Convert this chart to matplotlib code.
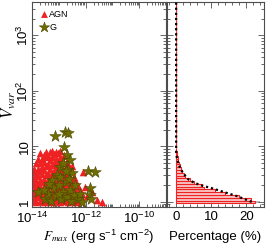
import numpy as np
import matplotlib
matplotlib.use("Agg")
import matplotlib.pyplot as plt
from matplotlib.ticker import LogLocator, FixedLocator, FuncFormatter, NullFormatter, MultipleLocator

plt.rcParams['font.family'] = ['Liberation Sans', 'DejaVu Sans']
plt.rcParams['mathtext.fontset'] = 'stix'

# ---- scatter data (log10 values) ----
agn_log_fmax = [
    -14.00, -14.00, -14.00, -14.00, -14.00, -14.00,
    -13.92, -13.92, -13.92, -13.92, -13.92,
    -13.85, -13.85, -13.85, -13.85, -13.85, -13.85,
    -13.78, -13.78, -13.78, -13.78, -13.78, -13.78,
    -13.70, -13.70, -13.70, -13.70, -13.70, -13.70, -13.70,
    -13.62, -13.62, -13.62, -13.62, -13.62, -13.62,
    -13.55, -13.55, -13.55, -13.55, -13.55, -13.55, -13.55,
    -13.47, -13.47, -13.47, -13.47, -13.47, -13.47, -13.47,
    -13.40, -13.40, -13.40, -13.40, -13.40, -13.40, -13.40,
    -13.32, -13.32, -13.32, -13.32, -13.32, -13.32, -13.32,
    -13.25, -13.25, -13.25, -13.25, -13.25, -13.25, -13.25, -13.25,
    -13.17, -13.17, -13.17, -13.17, -13.17, -13.17, -13.17,
    -13.10, -13.10, -13.10, -13.10, -13.10, -13.10, -13.10, -13.10,
    -13.02, -13.02, -13.02, -13.02, -13.02, -13.02, -13.02,
    -12.95, -12.95, -12.95, -12.95, -12.95, -12.95, -12.95, -12.95,
    -12.87, -12.87, -12.87, -12.87, -12.87, -12.87,
    -12.80, -12.80, -12.80, -12.80, -12.80, -12.80, -12.80,
    -12.72, -12.72, -12.72, -12.72, -12.72,
    -12.65, -12.65, -12.65, -12.65, -12.65, -12.65, -12.65,
    -12.57, -12.57, -12.57, -12.57, -12.57,
    -12.50, -12.50, -12.50, -12.50, -12.50, -12.50,
    -12.42, -12.42, -12.42, -12.42,
    -12.35, -12.35, -12.35, -12.35,
    -12.27, -12.27, -12.27,
    -12.20, -12.20, -12.20,
    -12.12, -12.12,
    -12.09, -12.02, -11.95, -11.77, -11.59, -11.40,
]
agn_log_vvar = [
    0.02, 0.12, 0.22, 0.33, 0.45, 0.55,
    0.05, 0.18, 0.30, 0.42, 0.60,
    0.00, 0.10, 0.25, 0.38, 0.50, 0.70,
    0.08, 0.20, 0.32, 0.46, 0.60, 0.78,
    0.02, 0.15, 0.28, 0.40, 0.55, 0.70, 0.88,
    0.06, 0.20, 0.35, 0.50, 0.62, 0.78,
    0.00, 0.12, 0.25, 0.42, 0.58, 0.72, 0.85,
    0.05, 0.18, 0.33, 0.48, 0.64, 0.80, 0.90,
    0.02, 0.10, 0.22, 0.38, 0.52, 0.68, 0.82,
    0.06, 0.15, 0.28, 0.44, 0.60, 0.75, 0.90,
    0.00, 0.10, 0.20, 0.35, 0.50, 0.66, 0.80, 0.92,
    0.04, 0.14, 0.26, 0.40, 0.55, 0.70, 0.86,
    0.02, 0.10, 0.22, 0.33, 0.48, 0.62, 0.78, 0.90,
    0.05, 0.16, 0.28, 0.42, 0.56, 0.72, 0.88,
    0.00, 0.10, 0.20, 0.36, 0.50, 0.65, 0.80, 0.92,
    0.04, 0.15, 0.30, 0.45, 0.60, 0.76,
    0.02, 0.12, 0.25, 0.40, 0.55, 0.70, 0.85,
    0.06, 0.18, 0.32, 0.48, 0.62,
    0.00, 0.10, 0.22, 0.36, 0.50, 0.68, 0.78,
    0.05, 0.15, 0.30, 0.45, 0.60,
    0.02, 0.12, 0.26, 0.40, 0.55, 0.65,
    0.06, 0.18, 0.32, 0.45,
    0.00, 0.10, 0.22, 0.35,
    0.04, 0.15, 0.28,
    0.02, 0.12, 0.22,
    0.06, 0.15,
    0.53, 0.27, 0.10, 0.18, 0.04, 0.00,
]

g_log_fmax = [-13.14, -12.77, -12.65, -12.79, -12.70, -12.58, -12.65, -12.96,
              -13.08, -12.52, -11.90, -11.65, -11.84, -13.76, -11.85, -11.80,
              -13.50, -13.40, -13.30, -13.20, -13.10, -13.00, -12.90, -12.85,
              -12.75, -12.70, -12.60, -12.55, -12.45, -12.40, -12.30, -12.20,
              -12.15, -13.25, -12.95, -12.62, -12.85, -12.75, -13.35, -13.55,
              -13.00]
g_log_vvar = [1.18, 1.26, 1.24, 0.99, 0.84, 0.75, 0.57, 0.63,
              0.48, 0.52, 0.56, 0.53, 0.25, 0.17, 0.12, 0.05,
              0.05, 0.15, 0.02, 0.25, 0.10, 0.30, 0.05, 0.18,
              0.35, 0.08, 0.22, 0.02, 0.12, 0.30, 0.05, 0.15,
              0.00, 0.40, 0.45, 0.42, 0.70, 0.55, 0.32, 0.22,
              0.15]

# ---- histogram data: bin centres in log10(Vvar), percentages ----
bin_log_centers = [0.00, 0.05, 0.10, 0.15, 0.20, 0.25, 0.30, 0.35, 0.40, 0.45,
                   0.50, 0.55, 0.60, 0.65, 0.70, 0.75, 0.80, 0.85, 0.90, 0.95,
                   1.00, 1.05, 1.10, 1.15, 1.20, 1.25, 1.30, 1.35, 1.40, 1.45,
                   1.50, 1.55, 1.60, 1.65, 1.70, 1.75, 1.80, 1.85, 1.90, 1.95,
                   2.00, 2.05, 2.10, 2.15, 2.20, 2.25, 2.30, 2.35, 2.40, 2.45,
                   2.50, 2.55, 2.60, 2.65, 2.70, 2.75, 2.80, 2.85, 2.90, 2.95,
                   3.00, 3.05, 3.10, 3.15, 3.20, 3.25, 3.30, 3.35, 3.40, 3.45,
                   3.50, 3.55, 3.60]
agn_pct = [22.3, 21.4, 18.0, 13.8, 11.0, 7.8, 7.3, 5.0, 4.0, 2.5,
           2.2, 1.8, 1.4, 1.1, 0.8, 0.6, 0.4, 0.3, 0.2, 0.1,
           0.1] + [0.0] * 52
g_pct = [21.5, 19.5, 17.5, 15.0, 12.5, 10.0, 7.0, 5.0, 3.6, 2.8,
         2.3, 1.7, 1.2, 0.9, 0.6, 0.4, 0.2, 0.1, 0.0, 0.0,
         0.0] + [0.0] * 52
all_pct_first_bin = 24.0

bin_half_width = 0.025

RED = '#ee2222'
OLIVE = '#6f6c00'
FRAME = '0.3'

fig = plt.figure(figsize=(2.66, 2.45), dpi=100)
ax1 = fig.add_axes([32 / 266, 38 / 245, 134 / 266, 204.5 / 245])
ax2 = fig.add_axes([167 / 266, 38 / 245, 97 / 266, 204.5 / 245])

# ---- left panel ----
ax1.scatter(10 ** np.array(agn_log_fmax), 10 ** np.array(agn_log_vvar), marker='^',
            s=30, color=RED, linewidths=0, label='AGN', zorder=2)
ax1.scatter(10 ** np.array(g_log_fmax), 10 ** np.array(g_log_vvar), marker='*',
            s=75, facecolor=OLIVE, edgecolor='#4a4800', linewidths=0.4, label='G', zorder=3)
ax1.set_xscale('log')
ax1.set_xlim(1e-14, 1e-9)

ax1.xaxis.set_major_locator(FixedLocator([1e-14, 1e-12, 1e-10]))
ax1.xaxis.set_minor_locator(LogLocator(base=10, subs=np.arange(1, 10), numticks=20))
ax1.xaxis.set_minor_formatter(NullFormatter())


def yfmt(v, pos):
    if abs(v - 1) < 1e-9:
        return '1'
    if abs(v - 10) < 1e-9:
        return '10'
    e = int(round(np.log10(v)))
    return r'$\mathdefault{10^{%d}}$' % e


for ax in (ax1, ax2):
    ax.set_yscale('log')
    ax.set_ylim(0.81, 3900)
    ax.yaxis.set_major_locator(FixedLocator([1, 10, 100, 1000]))
    ax.yaxis.set_minor_locator(LogLocator(base=10, subs=np.arange(2, 10), numticks=20))
    ax.yaxis.set_minor_formatter(NullFormatter())
    ax.tick_params(which='both', direction='in', top=True, right=True, color=FRAME,
                   labelsize=9.5, width=0.6)
    ax.tick_params(which='major', length=4.5)
    ax.tick_params(which='minor', length=2.2)
    for s in ax.spines.values():
        s.set_color(FRAME)
        s.set_linewidth(0.8)

ax1.yaxis.set_major_formatter(FuncFormatter(yfmt))
for lab in ax1.get_yticklabels():
    lab.set_rotation(90)
    lab.set_va('center')
ax1.tick_params(axis='y', pad=0.5)
ax1.tick_params(axis='x', pad=3)

ax1.set_ylabel(r'$V_{var}$', fontsize=12, va='center')
ax1.yaxis.set_label_coords(-0.17, 0.5)
ax1.set_xlabel(r'$F_{max}$ (erg s$^{\mathdefault{-1}}$ cm$^{\mathdefault{-2}}$)', fontsize=9.5,
               va='center')
ax1.xaxis.set_label_coords(0.5, -0.145)

leg = ax1.legend(loc='upper left', frameon=False, fontsize=6.5, handletextpad=0.0,
                 borderaxespad=0.5, labelspacing=0.45, handlelength=1.1, borderpad=0.3,
                 markerscale=0.9)

# ---- right panel ----
centers = np.array(bin_log_centers)
lo = 10 ** (centers - bin_half_width)
hi = 10 ** (centers + bin_half_width)
ax2.barh([lo[0]], [all_pct_first_bin], height=[hi[0] - lo[0]], left=0, align='edge',
         color='0.72', linewidth=0, zorder=1)
ax2.barh(lo, agn_pct, height=hi - lo, left=0, align='edge', facecolor='#f8c4c4',
         edgecolor=RED, linewidth=0.8, zorder=2)
ax2.plot(g_pct, 10 ** centers, color='k', linestyle=(0, (1, 1.3)), linewidth=1.6, zorder=3)
ax2.set_xlim(-2.6, 25)
ax2.xaxis.set_major_locator(FixedLocator([0, 10, 20]))
ax2.xaxis.set_minor_locator(MultipleLocator(2))
ax2.yaxis.set_major_formatter(NullFormatter())
ax2.tick_params(axis='x', pad=3)
ax2.set_xlabel('Percentage (%)', fontsize=9.5, va='center')
ax2.xaxis.set_label_coords(0.5, -0.145)

fig.savefig('out.png', dpi=100)
